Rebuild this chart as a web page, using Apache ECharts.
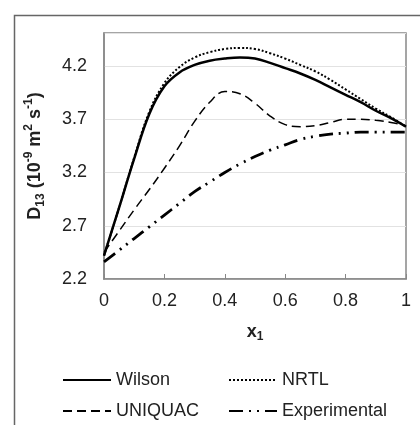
<!DOCTYPE html>
<html>
<head>
<meta charset="utf-8">
<script src="https://cdn.jsdelivr.net/npm/echarts@6/dist/echarts.min.js"></script>
<style>
  html, body { margin: 0; padding: 0; background: #fff; }
  #chart { width: 420px; height: 425px; }
</style>
</head>
<body>
<div id="chart"></div>
<script>
// mole fraction x1
const xValues = [0, 0.05, 0.1, 0.15, 0.2, 0.25, 0.3, 0.35, 0.4, 0.45, 0.5,
  0.55, 0.6, 0.65, 0.7, 0.75, 0.8, 0.85, 0.9, 0.95, 1]
// D13 values
const wilson = [2.42, 2.87, 3.33, 3.75, 4.01, 4.14, 4.21, 4.25, 4.27, 4.28, 4.27,
  4.23, 4.18, 4.13, 4.07, 4.0, 3.93, 3.86, 3.78, 3.71, 3.63]
const nrtl = [2.42, 2.87, 3.34, 3.77, 4.04, 4.19, 4.28, 4.33, 4.36, 4.37, 4.36,
  4.32, 4.27, 4.21, 4.15, 4.07, 3.98, 3.89, 3.8, 3.72, 3.63]
const uniquac = [2.45, 2.65, 2.85, 3.04, 3.24, 3.45, 3.68, 3.86, 3.96, 3.94, 3.85,
  3.73, 3.65, 3.63, 3.64, 3.67, 3.7, 3.7, 3.69, 3.67, 3.64]
const experimental = [2.36, 2.47, 2.58, 2.69, 2.8, 2.91, 3.02, 3.11, 3.2, 3.28, 3.35,
  3.41, 3.46, 3.51, 3.54, 3.56, 3.57, 3.58, 3.58, 3.58, 3.58]
const seriesNames = ['Wilson', 'NRTL', 'UNIQUAC', 'Experimental']
const yTicks = [2.2, 2.7, 3.2, 3.7, 4.2]
const xTicks = [0, 0.2, 0.4, 0.6, 0.8, 1]

const font = 'Liberation Sans, Arial, sans-serif'
const txt = '#222'

function pairs(ys) {
  return xValues.map((x, i) => [x, ys[i]])
}

const styles = [
  { width: 2.5, type: 'solid' },
  { width: 2, type: [2, 2] },
  { width: 1.5, type: [9, 5] },
  { width: 2.8, type: [14, 6, 2, 6, 2, 6] }
]
const allData = [wilson, nrtl, uniquac, experimental]

const myChart = echarts.init(document.getElementById('chart'))

function legendAt(name, left, top) {
  return {
    data: [name],
    left: left,
    top: top,
    padding: 0,
    itemWidth: 48,
    itemHeight: 14,
    itemGap: 0,
    itemStyle: { opacity: 0 },
    textStyle: { fontFamily: font, fontSize: 18, color: txt },
    selectedMode: false
  }
}

const option = {
  animation: false,
  backgroundColor: '#fff',
  graphic: [{
    type: 'rect',
    left: 12,
    top: 13,
    z: -1,
    shape: { width: 420, height: 420 },
    style: { fill: 'none', stroke: '#666', lineWidth: 1.5 }
  }],
  legend: [
    legendAt('Wilson', 62, 371),
    legendAt('NRTL', 228, 371),
    legendAt('UNIQUAC', 62, 402),
    legendAt('Experimental', 228, 402)
  ],
  grid: {
    left: 104,
    top: 33,
    right: 14,
    bottom: 146,
    show: true,
    borderColor: '#888',
    borderWidth: 1.5
  },
  xAxis: {
    type: 'value',
    min: 0,
    max: 1,
    interval: 0.2,
    name: '{b|x}{s|1}',
    nameLocation: 'middle',
    nameGap: 42,
    nameTextStyle: {
      rich: {
        b: { fontFamily: font, fontSize: 18, fontWeight: 'bold', color: txt, lineHeight: 22 },
        s: { fontFamily: font, fontSize: 12, fontWeight: 'bold', color: txt, lineHeight: 12, verticalAlign: 'bottom' }
      }
    },
    axisLine: { show: true, lineStyle: { color: '#888', width: 1.5 } },
    axisTick: { show: true, inside: true, length: 5, lineStyle: { color: '#888' } },
    axisLabel: {
      margin: 13,
      fontFamily: font,
      fontSize: 18,
      color: txt,
      formatter: v => (xTicks.indexOf(Math.round(v * 10) / 10) >= 0 ? (v === 0 || v === 1 ? String(v) : v.toFixed(1)) : '')
    },
    splitLine: { show: false }
  },
  yAxis: {
    type: 'value',
    min: 2.2,
    max: 4.51,
    interval: 0.5,
    name: '{b|D}{s|13}{b| (10}{p|-9}{b| m}{p|2}{b| s}{p|-1}{b|)}',
    nameLocation: 'middle',
    nameRotate: 90,
    nameGap: 57,
    nameTextStyle: {
      rich: {
        b: { fontFamily: font, fontSize: 18, fontWeight: 'bold', color: txt, lineHeight: 24 },
        s: { fontFamily: font, fontSize: 12, fontWeight: 'bold', color: txt, lineHeight: 12, verticalAlign: 'bottom' },
        p: { fontFamily: font, fontSize: 12, fontWeight: 'bold', color: txt, lineHeight: 12, verticalAlign: 'top' }
      }
    },
    axisLine: { show: true, lineStyle: { color: '#888', width: 1.5 } },
    axisTick: { show: false },
    axisLabel: {
      margin: 17,
      fontFamily: font,
      fontSize: 18,
      color: txt,
      showMaxLabel: false,
      formatter: v => {
        const r = Math.round(v * 10) / 10
        return yTicks.indexOf(r) >= 0 ? r.toFixed(1) : ''
      }
    },
    splitLine: { show: true, lineStyle: { color: '#e2e2e2', width: 1 } }
  },
  series: seriesNames.map((name, i) => ({
    name: name,
    type: 'line',
    data: pairs(allData[i]),
    smooth: 0.4,
    symbol: 'none',
    lineStyle: { color: '#000', width: styles[i].width, type: styles[i].type },
    itemStyle: { color: '#000' },
    z: 4 - i
  }))
}

myChart.setOption(option)
</script>
</body>
</html>
